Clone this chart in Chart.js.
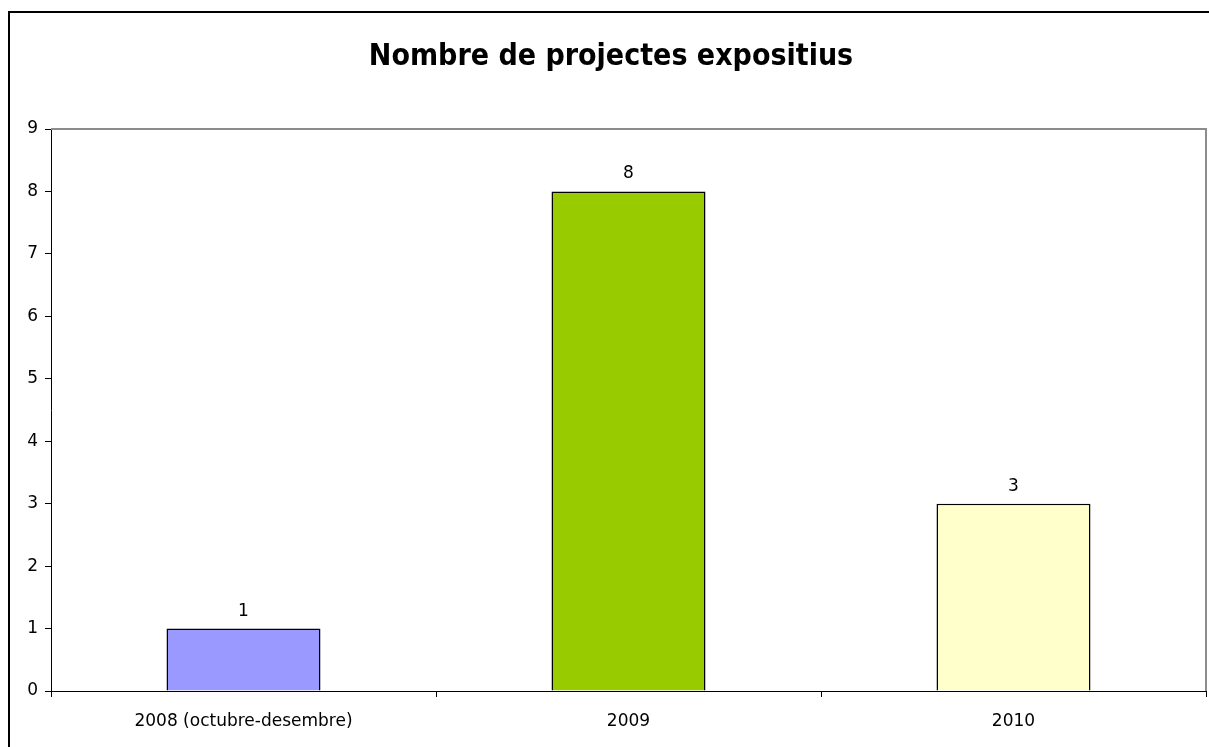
<!DOCTYPE html>
<html>
<head>
<meta charset="utf-8">
<title>Nombre de projectes expositius</title>
<script src="https://cdn.jsdelivr.net/npm/chart.js@4/dist/chart.umd.min.js"></script>
<style>
  html, body { margin: 0; padding: 0; background: #fff; }
  #wrap { width: 1209px; height: 747px; }
</style>
</head>
<body>
<div id="wrap"><canvas id="chart" width="1209" height="747"></canvas></div>
<script>
// data
const CATEGORIES = ['2008 (octubre-desembre)', '2009', '2010'];
const PROJECTS = [1, 8, 3];
const BAR_COLORS = ['#9999ff', '#99cc00', '#ffffcc'];
const Y_TICKS = [0, 1, 2, 3, 4, 5, 6, 7, 8, 9];

const FONT = "'DejaVu Sans', Verdana, sans-serif";

// outer frame + grey top/right edge of the plot area
const framePlugin = {
    id: 'frame',
    beforeDatasetsDraw(chart) {
        const c = chart.ctx, a = chart.chartArea;
        c.save();
        c.strokeStyle = '#000';
        c.lineWidth = 2;
        c.beginPath();
        c.moveTo(9, chart.height + 5);
        c.lineTo(9, 12);
        c.lineTo(chart.width + 5, 12);
        c.stroke();
        c.strokeStyle = '#8c8c8c';
        c.lineWidth = 2;
        c.beginPath();
        c.moveTo(a.left, a.top);
        c.lineTo(a.right, a.top);
        c.lineTo(a.right, a.bottom);
        c.stroke();
        c.restore();
    }
};

// value labels above the bars
const valuePlugin = {
    id: 'values',
    afterDatasetsDraw(chart) {
        const c = chart.ctx;
        const meta = chart.getDatasetMeta(0);
        c.save();
        c.font = '17px ' + FONT;
        c.fillStyle = '#000';
        c.textAlign = 'center';
        c.textBaseline = 'alphabetic';
        meta.data.forEach((bar, i) => {
            c.fillText(String(PROJECTS[i]), bar.x, bar.y - 13);
        });
        c.restore();
    }
};

new Chart(document.getElementById('chart').getContext('2d'), {
    type: 'bar',
    data: {
        labels: CATEGORIES,
        datasets: [{
            data: PROJECTS,
            backgroundColor: BAR_COLORS,
            borderColor: '#000',
            borderWidth: 1.5,
            categoryPercentage: 1,
            barPercentage: 0.4
        }]
    },
    options: {
        responsive: false,
        animation: false,
        layout: { padding: { left: 16, right: 3, top: 0, bottom: 0 } },
        plugins: {
            legend: { display: false },
            tooltip: { enabled: false },
            title: {
                display: true,
                text: 'Nombre de projectes expositius',
                color: '#000',
                font: { family: "'DejaVu Sans Condensed', 'DejaVu Sans', sans-serif", size: 30, weight: 'bold' },
                padding: { top: 39, bottom: 54 }
            }
        },
        scales: {
            x: {
                afterFit(scale) { scale.height = 56; },
                grid: { offset: true, drawOnChartArea: false, drawTicks: true, tickLength: 6, color: '#000' },
                border: { color: '#000', width: 1 },
                ticks: { color: '#000', font: { family: FONT, size: 17 }, padding: 14, maxRotation: 0 }
            },
            y: {
                min: 0,
                max: 9,
                afterFit(scale) { scale.width = 35; },
                afterBuildTicks(scale) { scale.ticks = Y_TICKS.map(v => ({ value: v })); },
                grid: { drawOnChartArea: false, drawTicks: true, tickLength: 6, color: '#000' },
                border: { color: '#000', width: 1 },
                ticks: { color: '#000', font: { family: FONT, size: 17 }, padding: 7 }
            }
        }
    },
    plugins: [framePlugin, valuePlugin]
});
</script>
</body>
</html>
